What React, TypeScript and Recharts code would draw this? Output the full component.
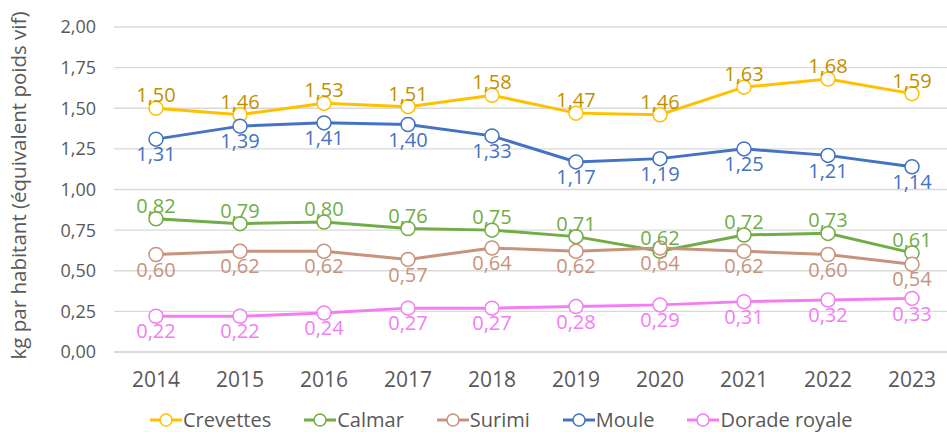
import React from "react";
import { LineChart, Line, XAxis, YAxis, CartesianGrid, LabelList } from "recharts";

const years = ["2014", "2015", "2016", "2017", "2018", "2019", "2020", "2021", "2022", "2023"];
const crevettes = [1.5, 1.46, 1.53, 1.51, 1.58, 1.47, 1.46, 1.63, 1.68, 1.59];
const calmar = [0.82, 0.79, 0.8, 0.76, 0.75, 0.71, 0.62, 0.72, 0.73, 0.61];
const surimi = [0.6, 0.62, 0.62, 0.57, 0.64, 0.62, 0.64, 0.62, 0.6, 0.54];
const moule = [1.31, 1.39, 1.41, 1.4, 1.33, 1.17, 1.19, 1.25, 1.21, 1.14];
const dorade = [0.22, 0.22, 0.24, 0.27, 0.27, 0.28, 0.29, 0.31, 0.32, 0.33];
const yTicks = [0, 0.25, 0.5, 0.75, 1, 1.25, 1.5, 1.75, 2];
const yTitle = "kg par habitant (équivalent poids vif)";

const series = [
  { key: "Crevettes", values: crevettes, color: "#FFC000", labelColor: "#BF9000", pos: "top" },
  { key: "Calmar", values: calmar, color: "#70AD47", labelColor: "#70AD47", pos: "top" },
  { key: "Surimi", values: surimi, color: "#C8937D", labelColor: "#C8937D", pos: "bottom" },
  { key: "Moule", values: moule, color: "#4472C4", labelColor: "#4472C4", pos: "bottom" },
  { key: "Dorade royale", values: dorade, color: "#F37DF3", labelColor: "#F37DF3", pos: "bottom" },
];

const data = years.map((y, i) => {
  const row: Record<string, any> = { year: y };
  series.forEach((s) => (row[s.key] = s.values[i]));
  return row;
});

const fmt = (v: any) => Number(v).toFixed(2).replace(".", ",");

const FONT = "'Open Sans', sans-serif";
const GREY = "#595959";

function LegendIcon({ color }: { color: string }) {
  return (
    <svg width={32} height={16} style={{ display: "block" }}>
      <line x1={0} y1={8} x2={32} y2={8} stroke={color} strokeWidth={3} />
      <circle cx={16} cy={8} r={6} fill="#fff" stroke={color} strokeWidth={1.5} />
    </svg>
  );
}

export default function App() {
  return (
    <div
      style={{
        position: "absolute",
        left: 0,
        top: 0,
        width: 947,
        height: 432,
        overflow: "hidden",
        background: "#fff",
        fontFamily: FONT,
      }}
    >
      <LineChart width={955} height={432} data={data} margin={{ top: 27, right: 1, bottom: 40, left: 0 }}>
        <CartesianGrid vertical={false} stroke="#D9D9D9" strokeWidth={1.3} />
        <XAxis
          dataKey="year"
          padding={{ left: 42, right: 42 }}
          tickLine={false}
          axisLine={{ stroke: "#D9D9D9", strokeWidth: 1.3 }}
          tick={{ fill: GREY, fontSize: 21, fontFamily: FONT }}
          tickMargin={14}
          height={40}
          interval={0}
        />
        <YAxis
          domain={[0, 2]}
          ticks={yTicks}
          tickFormatter={fmt}
          tickLine={false}
          axisLine={false}
          tickMargin={12}
          width={114}
          tick={{ fill: GREY, fontSize: 18, fontFamily: FONT }}
          label={{
            value: yTitle,
            angle: -90,
            position: "center",
            dx: -38,
            dy: -4,
            fill: GREY,
            fontSize: 20.5,
            fontFamily: FONT,
          }}
        />
        {series.map((s) => (
          <Line
            key={s.key}
            dataKey={s.key}
            stroke={s.color}
            strokeWidth={3}
            dot={{ r: 7, fill: "#fff", stroke: s.color, strokeWidth: 1.5 }}
            activeDot={false}
            isAnimationActive={false}
          >
            <LabelList
              dataKey={s.key}
              position={s.pos as any}
              offset={s.pos === "top" ? 6 : 8}
              formatter={fmt}
              fill={s.labelColor}
              fontSize={20}
              fontFamily={FONT}
            />
          </Line>
        ))}
      </LineChart>
      <div
        style={{
          position: "absolute",
          left: 150,
          top: 408,
          display: "flex",
          alignItems: "center",
          gap: 33,
          fontSize: 20,
          color: GREY,
          fontFamily: FONT,
          lineHeight: "24px",
        }}
      >
        {series.map((s) => (
          <div key={s.key} style={{ display: "flex", alignItems: "center", gap: 1 }}>
            <LegendIcon color={s.color} />
            <span>{s.key}</span>
          </div>
        ))}
      </div>
    </div>
  );
}
